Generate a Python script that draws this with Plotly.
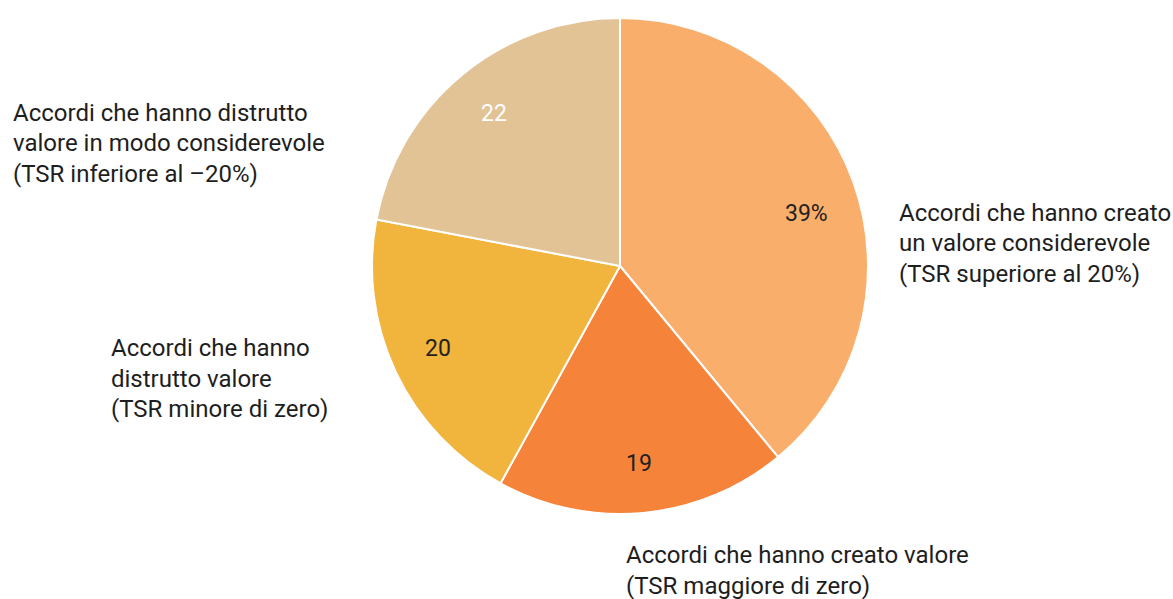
import math
import plotly.graph_objects as go

# Slices, clockwise from 12 o'clock
values = [39, 19, 20, 22]
inner_labels = ["39%", "19", "20", "22"]
colors = ["#F9AE6B", "#F5833A", "#F1B43C", "#E2C395"]
inner_text_colors = ["#222222", "#222222", "#222222", "#ffffff"]

# Outer category captions (one entry per line)
captions = [
    ["Accordi che hanno creato", "un valore considerevole", "(TSR superiore al 20%)"],
    ["Accordi che hanno creato valore", "(TSR maggiore di zero)"],
    ["Accordi che hanno", "distrutto valore", "(TSR minore di zero)"],
    ["Accordi che hanno distrutto", "valore in modo considerevole", "(TSR inferiore al \u201320%)"],
]

W, H = 1173, 599
CX, CY, R = 620, 266, 248
FONT = "Roboto"

fig = go.Figure(
    go.Pie(
        values=values,
        sort=False,
        direction="clockwise",
        rotation=0,
        marker=dict(colors=colors, line=dict(color="white", width=2)),
        textinfo="none",
        hoverinfo="skip",
        domain=dict(x=[(CX - R) / W, (CX + R) / W], y=[1 - (CY + R) / H, 1 - (CY - R) / H]),
        showlegend=False,
    )
)

annotations = []

# Value labels placed along each slice's middle angle (small pixel nudges per label)
label_nudge = [(0, 15), (0, 0), (-2, -2), (0, 0)]
total = sum(values)
cum = 0
for v, lab, tc, (nx, ny) in zip(values, inner_labels, inner_text_colors, label_nudge):
    mid = (cum + v / 2) / total
    ang = math.pi / 2 - 2 * math.pi * mid
    px = CX + 0.8 * R * math.cos(ang) + nx
    py = CY - 0.8 * R * math.sin(ang) + ny
    annotations.append(dict(
        x=px / W, y=1 - py / H, xref="paper", yref="paper",
        text=lab, showarrow=False, xanchor="center", yanchor="middle",
        font=dict(family=FONT, size=23, color=tc),
    ))
    cum += v

# Caption blocks: left x and first-line centre y, in pixels
caption_pos = [(897, 213), (624, 555), (109, 348), (11, 113)]
LINE = 30.5
for lines, (lx, ly) in zip(captions, caption_pos):
    for i, t in enumerate(lines):
        annotations.append(dict(
            x=lx / W, y=1 - (ly + i * LINE) / H, xref="paper", yref="paper",
            text=t, showarrow=False, xanchor="left", yanchor="middle",
            font=dict(family=FONT, size=24, color="#1e1e1e"),
        ))

fig.update_layout(
    width=W, height=H,
    margin=dict(l=0, r=0, t=0, b=0),
    paper_bgcolor="white", plot_bgcolor="white",
    annotations=annotations,
)

fig.write_html("out.html")
